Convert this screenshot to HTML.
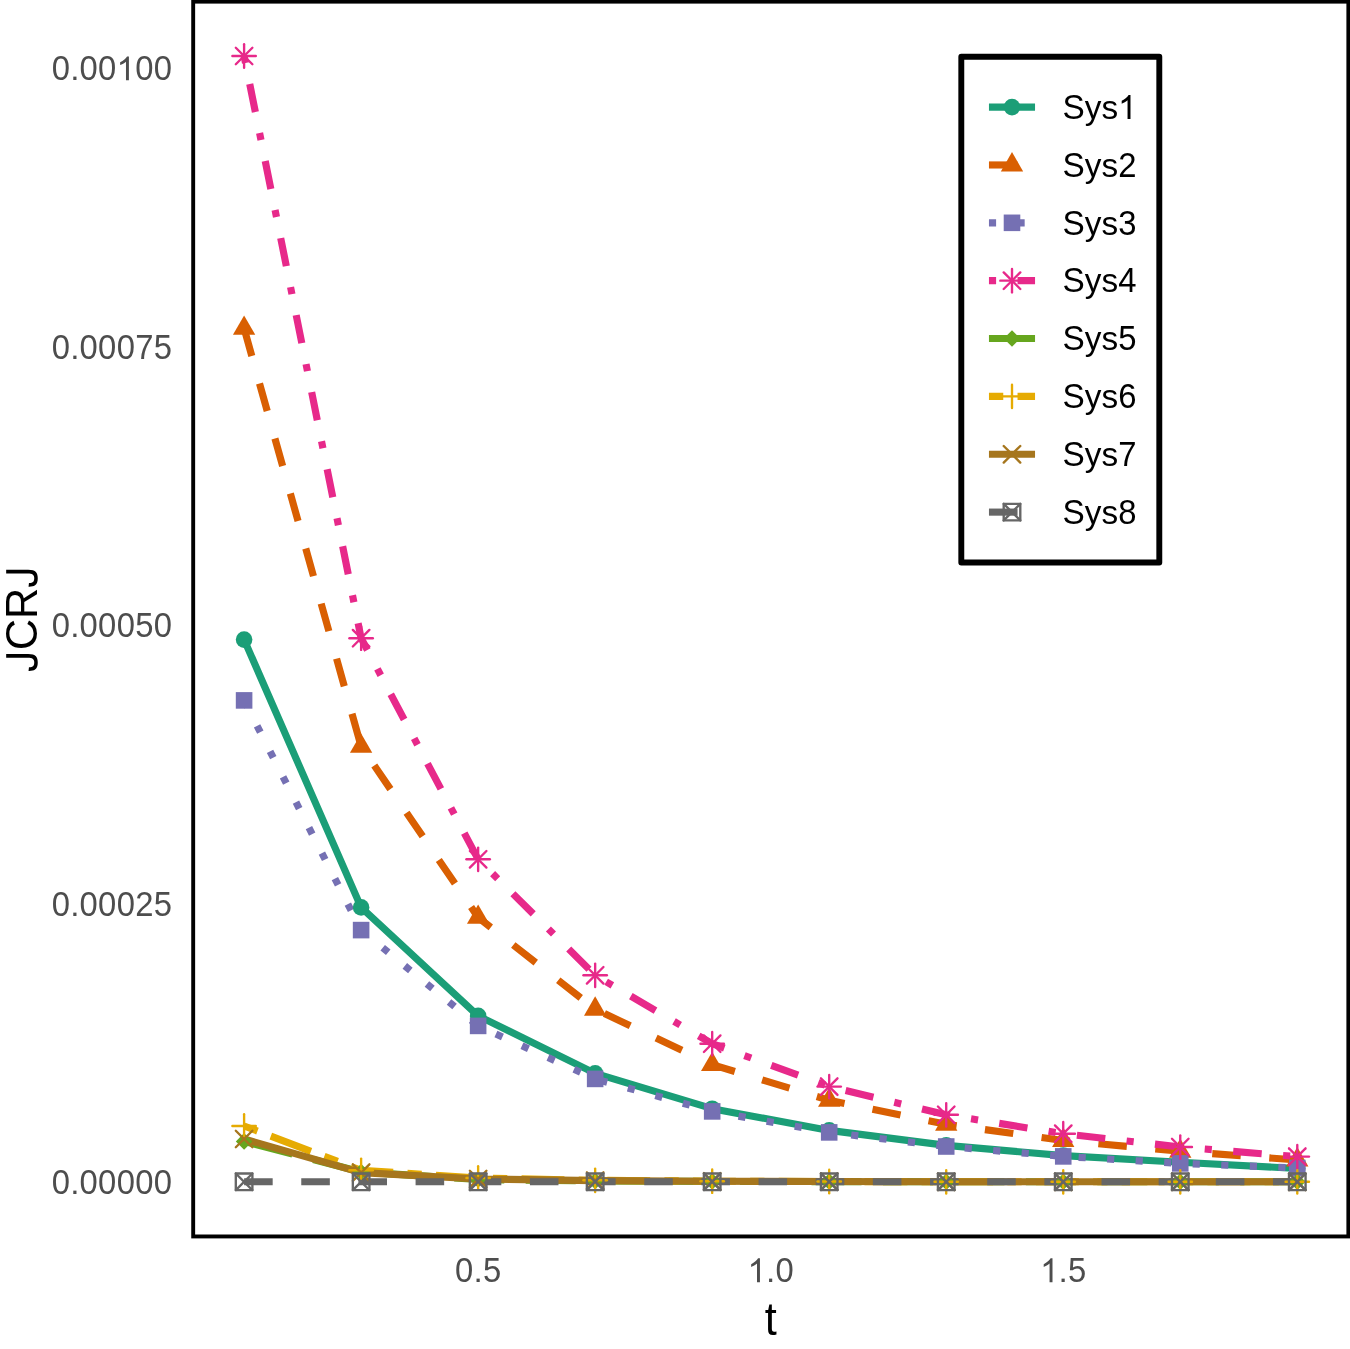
<!DOCTYPE html>
<html><head><meta charset="utf-8"><style>
html,body{margin:0;padding:0;background:#fff;}
body{width:1350px;height:1349px;overflow:hidden;}
svg{display:block;font-family:"Liberation Sans",sans-serif;will-change:transform;}
</style></head><body>
<svg width="1350" height="1349" viewBox="0 0 1350 1349">
<rect width="1350" height="1349" fill="#fff"/>
<polyline points="244.1,639.6 361.12,907.4 478.14,1015.9 595.16,1073.4 712.18,1108.7 829.2,1130.4 946.22,1145.4 1063.24,1155.6 1180.26,1162.2 1297.28,1168.5" fill="none" stroke="#1B9E77" stroke-width="7.14" stroke-linejoin="round" stroke-linecap="butt"/>
<polyline points="244.1,328.4 361.12,746.3 478.14,917.4 595.16,1009.2 712.18,1064.6 829.2,1100.3 946.22,1124.3 1063.24,1140.5 1180.26,1151.3 1297.28,1160" fill="none" stroke="#D95F02" stroke-width="7.14" stroke-linejoin="round" stroke-linecap="butt" stroke-dasharray="28.58 28.58"/>
<polyline points="244.1,700.4 361.12,930.1 478.14,1025.9 595.16,1078.9 712.18,1111.4 829.2,1132.4 946.22,1146.5 1063.24,1156.4 1180.26,1163.4 1297.28,1168" fill="none" stroke="#7570B3" stroke-width="7.14" stroke-linejoin="round" stroke-linecap="butt" stroke-dasharray="7.14 21.43"/>
<polyline points="244.1,56 361.12,638.2 478.14,859.3 595.16,975.3 712.18,1043.7 829.2,1086.6 946.22,1114.8 1063.24,1133.7 1180.26,1147.05 1297.28,1156.6" fill="none" stroke="#E7298A" stroke-width="7.14" stroke-linejoin="round" stroke-linecap="butt" stroke-dasharray="7.14 21.43 28.58 21.43"/>
<polyline points="244.1,1141.4 361.12,1172 478.14,1179.5 595.16,1181 712.18,1181.4 829.2,1181.6 946.22,1181.8 1063.24,1181.8 1180.26,1181.8 1297.28,1181.8" fill="none" stroke="#66A61E" stroke-width="7.14" stroke-linejoin="round" stroke-linecap="butt" stroke-dasharray="50.02 21.43"/>
<polyline points="244.1,1126 361.12,1170.3 478.14,1178 595.16,1180.3 712.18,1181.2 829.2,1181.5 946.22,1181.8 1063.24,1181.8 1180.26,1181.8 1297.28,1181.8" fill="none" stroke="#E6AB02" stroke-width="7.14" stroke-linejoin="round" stroke-linecap="butt" stroke-dasharray="14.29 14.29 42.87 14.29"/>
<polyline points="244.1,1139 361.12,1172.6 478.14,1179 595.16,1180.6 712.18,1181.3 829.2,1181.5 946.22,1181.8 1063.24,1181.8 1180.26,1181.8 1297.28,1181.8" fill="none" stroke="#A6761D" stroke-width="7.14" stroke-linejoin="round" stroke-linecap="butt"/>
<polyline points="244.1,1181.8 361.12,1181.8 478.14,1181.8 595.16,1181.8 712.18,1181.8 829.2,1181.8 946.22,1181.8 1063.24,1181.8 1180.26,1181.8 1297.28,1181.8" fill="none" stroke="#666666" stroke-width="7.14" stroke-linejoin="round" stroke-linecap="butt" stroke-dasharray="28.58 28.58"/>
<circle cx="244.1" cy="639.6" r="8.29" fill="#1B9E77"/>
<circle cx="361.12" cy="907.4" r="8.29" fill="#1B9E77"/>
<circle cx="478.14" cy="1015.9" r="8.29" fill="#1B9E77"/>
<circle cx="595.16" cy="1073.4" r="8.29" fill="#1B9E77"/>
<circle cx="712.18" cy="1108.7" r="8.29" fill="#1B9E77"/>
<circle cx="829.2" cy="1130.4" r="8.29" fill="#1B9E77"/>
<circle cx="946.22" cy="1145.4" r="8.29" fill="#1B9E77"/>
<circle cx="1063.24" cy="1155.6" r="8.29" fill="#1B9E77"/>
<circle cx="1180.26" cy="1162.2" r="8.29" fill="#1B9E77"/>
<circle cx="1297.28" cy="1168.5" r="8.29" fill="#1B9E77"/>
<polygon points="244.1,315.51 255.26,334.85 232.94,334.85" fill="#D95F02"/>
<polygon points="361.12,733.41 372.28,752.75 349.96,752.75" fill="#D95F02"/>
<polygon points="478.14,904.51 489.3,923.85 466.98,923.85" fill="#D95F02"/>
<polygon points="595.16,996.31 606.32,1015.65 584,1015.65" fill="#D95F02"/>
<polygon points="712.18,1051.71 723.34,1071.05 701.02,1071.05" fill="#D95F02"/>
<polygon points="829.2,1087.41 840.36,1106.75 818.04,1106.75" fill="#D95F02"/>
<polygon points="946.22,1111.41 957.38,1130.75 935.06,1130.75" fill="#D95F02"/>
<polygon points="1063.24,1127.61 1074.4,1146.95 1052.08,1146.95" fill="#D95F02"/>
<polygon points="1180.26,1138.41 1191.42,1157.75 1169.1,1157.75" fill="#D95F02"/>
<polygon points="1297.28,1147.11 1308.44,1166.45 1286.12,1166.45" fill="#D95F02"/>
<rect x="235.81" y="692.11" width="16.58" height="16.58" fill="#7570B3"/>
<rect x="352.83" y="921.81" width="16.58" height="16.58" fill="#7570B3"/>
<rect x="469.85" y="1017.61" width="16.58" height="16.58" fill="#7570B3"/>
<rect x="586.87" y="1070.61" width="16.58" height="16.58" fill="#7570B3"/>
<rect x="703.89" y="1103.11" width="16.58" height="16.58" fill="#7570B3"/>
<rect x="820.91" y="1124.11" width="16.58" height="16.58" fill="#7570B3"/>
<rect x="937.93" y="1138.21" width="16.58" height="16.58" fill="#7570B3"/>
<rect x="1054.95" y="1148.11" width="16.58" height="16.58" fill="#7570B3"/>
<rect x="1171.97" y="1155.11" width="16.58" height="16.58" fill="#7570B3"/>
<rect x="1288.99" y="1159.71" width="16.58" height="16.58" fill="#7570B3"/>
<g stroke="#E7298A" stroke-width="2.36" stroke-linecap="round" fill="none"><line x1="232.38" y1="56" x2="255.82" y2="56"/><line x1="244.1" y1="44.28" x2="244.1" y2="67.72"/><line x1="235.81" y1="47.71" x2="252.39" y2="64.29"/><line x1="235.81" y1="64.29" x2="252.39" y2="47.71"/></g>
<g stroke="#E7298A" stroke-width="2.36" stroke-linecap="round" fill="none"><line x1="349.4" y1="638.2" x2="372.84" y2="638.2"/><line x1="361.12" y1="626.48" x2="361.12" y2="649.92"/><line x1="352.83" y1="629.91" x2="369.41" y2="646.49"/><line x1="352.83" y1="646.49" x2="369.41" y2="629.91"/></g>
<g stroke="#E7298A" stroke-width="2.36" stroke-linecap="round" fill="none"><line x1="466.42" y1="859.3" x2="489.86" y2="859.3"/><line x1="478.14" y1="847.58" x2="478.14" y2="871.02"/><line x1="469.85" y1="851.01" x2="486.43" y2="867.59"/><line x1="469.85" y1="867.59" x2="486.43" y2="851.01"/></g>
<g stroke="#E7298A" stroke-width="2.36" stroke-linecap="round" fill="none"><line x1="583.44" y1="975.3" x2="606.88" y2="975.3"/><line x1="595.16" y1="963.58" x2="595.16" y2="987.02"/><line x1="586.87" y1="967.01" x2="603.45" y2="983.59"/><line x1="586.87" y1="983.59" x2="603.45" y2="967.01"/></g>
<g stroke="#E7298A" stroke-width="2.36" stroke-linecap="round" fill="none"><line x1="700.46" y1="1043.7" x2="723.9" y2="1043.7"/><line x1="712.18" y1="1031.98" x2="712.18" y2="1055.42"/><line x1="703.89" y1="1035.41" x2="720.47" y2="1051.99"/><line x1="703.89" y1="1051.99" x2="720.47" y2="1035.41"/></g>
<g stroke="#E7298A" stroke-width="2.36" stroke-linecap="round" fill="none"><line x1="817.48" y1="1086.6" x2="840.92" y2="1086.6"/><line x1="829.2" y1="1074.88" x2="829.2" y2="1098.32"/><line x1="820.91" y1="1078.31" x2="837.49" y2="1094.89"/><line x1="820.91" y1="1094.89" x2="837.49" y2="1078.31"/></g>
<g stroke="#E7298A" stroke-width="2.36" stroke-linecap="round" fill="none"><line x1="934.5" y1="1114.8" x2="957.94" y2="1114.8"/><line x1="946.22" y1="1103.08" x2="946.22" y2="1126.52"/><line x1="937.93" y1="1106.51" x2="954.51" y2="1123.09"/><line x1="937.93" y1="1123.09" x2="954.51" y2="1106.51"/></g>
<g stroke="#E7298A" stroke-width="2.36" stroke-linecap="round" fill="none"><line x1="1051.52" y1="1133.7" x2="1074.96" y2="1133.7"/><line x1="1063.24" y1="1121.98" x2="1063.24" y2="1145.42"/><line x1="1054.95" y1="1125.41" x2="1071.53" y2="1141.99"/><line x1="1054.95" y1="1141.99" x2="1071.53" y2="1125.41"/></g>
<g stroke="#E7298A" stroke-width="2.36" stroke-linecap="round" fill="none"><line x1="1168.54" y1="1147.05" x2="1191.98" y2="1147.05"/><line x1="1180.26" y1="1135.33" x2="1180.26" y2="1158.77"/><line x1="1171.97" y1="1138.76" x2="1188.55" y2="1155.34"/><line x1="1171.97" y1="1155.34" x2="1188.55" y2="1138.76"/></g>
<g stroke="#E7298A" stroke-width="2.36" stroke-linecap="round" fill="none"><line x1="1285.56" y1="1156.6" x2="1309" y2="1156.6"/><line x1="1297.28" y1="1144.88" x2="1297.28" y2="1168.32"/><line x1="1288.99" y1="1148.31" x2="1305.57" y2="1164.89"/><line x1="1288.99" y1="1164.89" x2="1305.57" y2="1148.31"/></g>
<polygon points="235.81,1141.4 244.1,1133.11 252.39,1141.4 244.1,1149.69" fill="#66A61E"/>
<polygon points="352.83,1172 361.12,1163.71 369.41,1172 361.12,1180.29" fill="#66A61E"/>
<polygon points="469.85,1179.5 478.14,1171.21 486.43,1179.5 478.14,1187.79" fill="#66A61E"/>
<polygon points="586.87,1181 595.16,1172.71 603.45,1181 595.16,1189.29" fill="#66A61E"/>
<polygon points="703.89,1181.4 712.18,1173.11 720.47,1181.4 712.18,1189.69" fill="#66A61E"/>
<polygon points="820.91,1181.6 829.2,1173.31 837.49,1181.6 829.2,1189.89" fill="#66A61E"/>
<polygon points="937.93,1181.8 946.22,1173.51 954.51,1181.8 946.22,1190.09" fill="#66A61E"/>
<polygon points="1054.95,1181.8 1063.24,1173.51 1071.53,1181.8 1063.24,1190.09" fill="#66A61E"/>
<polygon points="1171.97,1181.8 1180.26,1173.51 1188.55,1181.8 1180.26,1190.09" fill="#66A61E"/>
<polygon points="1288.99,1181.8 1297.28,1173.51 1305.57,1181.8 1297.28,1190.09" fill="#66A61E"/>
<g stroke="#E6AB02" stroke-width="2.36" stroke-linecap="round" fill="none"><line x1="232.38" y1="1126" x2="255.82" y2="1126"/><line x1="244.1" y1="1114.28" x2="244.1" y2="1137.72"/></g>
<g stroke="#E6AB02" stroke-width="2.36" stroke-linecap="round" fill="none"><line x1="349.4" y1="1170.3" x2="372.84" y2="1170.3"/><line x1="361.12" y1="1158.58" x2="361.12" y2="1182.02"/></g>
<g stroke="#E6AB02" stroke-width="2.36" stroke-linecap="round" fill="none"><line x1="466.42" y1="1178" x2="489.86" y2="1178"/><line x1="478.14" y1="1166.28" x2="478.14" y2="1189.72"/></g>
<g stroke="#E6AB02" stroke-width="2.36" stroke-linecap="round" fill="none"><line x1="583.44" y1="1180.3" x2="606.88" y2="1180.3"/><line x1="595.16" y1="1168.58" x2="595.16" y2="1192.02"/></g>
<g stroke="#E6AB02" stroke-width="2.36" stroke-linecap="round" fill="none"><line x1="700.46" y1="1181.2" x2="723.9" y2="1181.2"/><line x1="712.18" y1="1169.48" x2="712.18" y2="1192.92"/></g>
<g stroke="#E6AB02" stroke-width="2.36" stroke-linecap="round" fill="none"><line x1="817.48" y1="1181.5" x2="840.92" y2="1181.5"/><line x1="829.2" y1="1169.78" x2="829.2" y2="1193.22"/></g>
<g stroke="#E6AB02" stroke-width="2.36" stroke-linecap="round" fill="none"><line x1="934.5" y1="1181.8" x2="957.94" y2="1181.8"/><line x1="946.22" y1="1170.08" x2="946.22" y2="1193.52"/></g>
<g stroke="#E6AB02" stroke-width="2.36" stroke-linecap="round" fill="none"><line x1="1051.52" y1="1181.8" x2="1074.96" y2="1181.8"/><line x1="1063.24" y1="1170.08" x2="1063.24" y2="1193.52"/></g>
<g stroke="#E6AB02" stroke-width="2.36" stroke-linecap="round" fill="none"><line x1="1168.54" y1="1181.8" x2="1191.98" y2="1181.8"/><line x1="1180.26" y1="1170.08" x2="1180.26" y2="1193.52"/></g>
<g stroke="#E6AB02" stroke-width="2.36" stroke-linecap="round" fill="none"><line x1="1285.56" y1="1181.8" x2="1309" y2="1181.8"/><line x1="1297.28" y1="1170.08" x2="1297.28" y2="1193.52"/></g>
<g stroke="#A6761D" stroke-width="2.36" stroke-linecap="round" fill="none"><line x1="235.81" y1="1130.71" x2="252.39" y2="1147.29"/><line x1="235.81" y1="1147.29" x2="252.39" y2="1130.71"/></g>
<g stroke="#A6761D" stroke-width="2.36" stroke-linecap="round" fill="none"><line x1="352.83" y1="1164.31" x2="369.41" y2="1180.89"/><line x1="352.83" y1="1180.89" x2="369.41" y2="1164.31"/></g>
<g stroke="#A6761D" stroke-width="2.36" stroke-linecap="round" fill="none"><line x1="469.85" y1="1170.71" x2="486.43" y2="1187.29"/><line x1="469.85" y1="1187.29" x2="486.43" y2="1170.71"/></g>
<g stroke="#A6761D" stroke-width="2.36" stroke-linecap="round" fill="none"><line x1="586.87" y1="1172.31" x2="603.45" y2="1188.89"/><line x1="586.87" y1="1188.89" x2="603.45" y2="1172.31"/></g>
<g stroke="#A6761D" stroke-width="2.36" stroke-linecap="round" fill="none"><line x1="703.89" y1="1173.01" x2="720.47" y2="1189.59"/><line x1="703.89" y1="1189.59" x2="720.47" y2="1173.01"/></g>
<g stroke="#A6761D" stroke-width="2.36" stroke-linecap="round" fill="none"><line x1="820.91" y1="1173.21" x2="837.49" y2="1189.79"/><line x1="820.91" y1="1189.79" x2="837.49" y2="1173.21"/></g>
<g stroke="#A6761D" stroke-width="2.36" stroke-linecap="round" fill="none"><line x1="937.93" y1="1173.51" x2="954.51" y2="1190.09"/><line x1="937.93" y1="1190.09" x2="954.51" y2="1173.51"/></g>
<g stroke="#A6761D" stroke-width="2.36" stroke-linecap="round" fill="none"><line x1="1054.95" y1="1173.51" x2="1071.53" y2="1190.09"/><line x1="1054.95" y1="1190.09" x2="1071.53" y2="1173.51"/></g>
<g stroke="#A6761D" stroke-width="2.36" stroke-linecap="round" fill="none"><line x1="1171.97" y1="1173.51" x2="1188.55" y2="1190.09"/><line x1="1171.97" y1="1190.09" x2="1188.55" y2="1173.51"/></g>
<g stroke="#A6761D" stroke-width="2.36" stroke-linecap="round" fill="none"><line x1="1288.99" y1="1173.51" x2="1305.57" y2="1190.09"/><line x1="1288.99" y1="1190.09" x2="1305.57" y2="1173.51"/></g>
<g stroke="#666666" stroke-width="2.36" stroke-linecap="round" fill="none"><line x1="235.81" y1="1173.51" x2="252.39" y2="1190.09"/><line x1="235.81" y1="1190.09" x2="252.39" y2="1173.51"/><rect x="235.81" y="1173.51" width="16.58" height="16.58" stroke-linejoin="round"/></g>
<g stroke="#666666" stroke-width="2.36" stroke-linecap="round" fill="none"><line x1="352.83" y1="1173.51" x2="369.41" y2="1190.09"/><line x1="352.83" y1="1190.09" x2="369.41" y2="1173.51"/><rect x="352.83" y="1173.51" width="16.58" height="16.58" stroke-linejoin="round"/></g>
<g stroke="#666666" stroke-width="2.36" stroke-linecap="round" fill="none"><line x1="469.85" y1="1173.51" x2="486.43" y2="1190.09"/><line x1="469.85" y1="1190.09" x2="486.43" y2="1173.51"/><rect x="469.85" y="1173.51" width="16.58" height="16.58" stroke-linejoin="round"/></g>
<g stroke="#666666" stroke-width="2.36" stroke-linecap="round" fill="none"><line x1="586.87" y1="1173.51" x2="603.45" y2="1190.09"/><line x1="586.87" y1="1190.09" x2="603.45" y2="1173.51"/><rect x="586.87" y="1173.51" width="16.58" height="16.58" stroke-linejoin="round"/></g>
<g stroke="#666666" stroke-width="2.36" stroke-linecap="round" fill="none"><line x1="703.89" y1="1173.51" x2="720.47" y2="1190.09"/><line x1="703.89" y1="1190.09" x2="720.47" y2="1173.51"/><rect x="703.89" y="1173.51" width="16.58" height="16.58" stroke-linejoin="round"/></g>
<g stroke="#666666" stroke-width="2.36" stroke-linecap="round" fill="none"><line x1="820.91" y1="1173.51" x2="837.49" y2="1190.09"/><line x1="820.91" y1="1190.09" x2="837.49" y2="1173.51"/><rect x="820.91" y="1173.51" width="16.58" height="16.58" stroke-linejoin="round"/></g>
<g stroke="#666666" stroke-width="2.36" stroke-linecap="round" fill="none"><line x1="937.93" y1="1173.51" x2="954.51" y2="1190.09"/><line x1="937.93" y1="1190.09" x2="954.51" y2="1173.51"/><rect x="937.93" y="1173.51" width="16.58" height="16.58" stroke-linejoin="round"/></g>
<g stroke="#666666" stroke-width="2.36" stroke-linecap="round" fill="none"><line x1="1054.95" y1="1173.51" x2="1071.53" y2="1190.09"/><line x1="1054.95" y1="1190.09" x2="1071.53" y2="1173.51"/><rect x="1054.95" y="1173.51" width="16.58" height="16.58" stroke-linejoin="round"/></g>
<g stroke="#666666" stroke-width="2.36" stroke-linecap="round" fill="none"><line x1="1171.97" y1="1173.51" x2="1188.55" y2="1190.09"/><line x1="1171.97" y1="1190.09" x2="1188.55" y2="1173.51"/><rect x="1171.97" y="1173.51" width="16.58" height="16.58" stroke-linejoin="round"/></g>
<g stroke="#666666" stroke-width="2.36" stroke-linecap="round" fill="none"><line x1="1288.99" y1="1173.51" x2="1305.57" y2="1190.09"/><line x1="1288.99" y1="1190.09" x2="1305.57" y2="1173.51"/><rect x="1288.99" y="1173.51" width="16.58" height="16.58" stroke-linejoin="round"/></g>
<rect x="193.19" y="1.65" width="1155.16" height="1234.8" fill="none" stroke="#000" stroke-width="3.9"/>
<g transform="translate(172.1,1194.03)" fill="#4D4D4D" font-size="33.33" text-anchor="middle"><text transform="translate(-111.21,0) scale(0.985,1.04)">0</text><text transform="translate(-97.31,0) scale(1,0.94)">.</text><text transform="translate(-83.41,0) scale(0.985,1.04)">0</text><text transform="translate(-64.88,0) scale(0.985,1.04)">0</text><text transform="translate(-46.34,0) scale(0.985,1.04)">0</text><text transform="translate(-27.8,0) scale(0.985,1.04)">0</text><text transform="translate(-9.27,0) scale(0.985,1.04)">0</text></g>
<g transform="translate(172.1,915.61)" fill="#4D4D4D" font-size="33.33" text-anchor="middle"><text transform="translate(-111.21,0) scale(0.985,1.04)">0</text><text transform="translate(-97.31,0) scale(1,0.94)">.</text><text transform="translate(-83.41,0) scale(0.985,1.04)">0</text><text transform="translate(-64.88,0) scale(0.985,1.04)">0</text><text transform="translate(-46.34,0) scale(0.985,1.04)">0</text><text transform="translate(-27.8,0) scale(0.985,1.04)">2</text><text transform="translate(-9.27,0) scale(0.985,1.04)">5</text></g>
<g transform="translate(172.1,637.18)" fill="#4D4D4D" font-size="33.33" text-anchor="middle"><text transform="translate(-111.21,0) scale(0.985,1.04)">0</text><text transform="translate(-97.31,0) scale(1,0.94)">.</text><text transform="translate(-83.41,0) scale(0.985,1.04)">0</text><text transform="translate(-64.88,0) scale(0.985,1.04)">0</text><text transform="translate(-46.34,0) scale(0.985,1.04)">0</text><text transform="translate(-27.8,0) scale(0.985,1.04)">5</text><text transform="translate(-9.27,0) scale(0.985,1.04)">0</text></g>
<g transform="translate(172.1,358.76)" fill="#4D4D4D" font-size="33.33" text-anchor="middle"><text transform="translate(-111.21,0) scale(0.985,1.04)">0</text><text transform="translate(-97.31,0) scale(1,0.94)">.</text><text transform="translate(-83.41,0) scale(0.985,1.04)">0</text><text transform="translate(-64.88,0) scale(0.985,1.04)">0</text><text transform="translate(-46.34,0) scale(0.985,1.04)">0</text><text transform="translate(-27.8,0) scale(0.985,1.04)">7</text><text transform="translate(-9.27,0) scale(0.985,1.04)">5</text></g>
<g transform="translate(172.1,80.33)" fill="#4D4D4D" font-size="33.33" text-anchor="middle"><text transform="translate(-111.21,0) scale(0.985,1.04)">0</text><text transform="translate(-97.31,0) scale(1,0.94)">.</text><text transform="translate(-83.41,0) scale(0.985,1.04)">0</text><text transform="translate(-64.88,0) scale(0.985,1.04)">0</text><path transform="translate(-55.61,0) scale(33.33,-33.3300)" d="M0.3726 0 L0.2847 0 L0.2847 0.5601 Q0.2529 0.5298 0.2012 0.4995 Q0.1494 0.4692 0.1094 0.4570 L0.1094 0.5420 Q0.1826 0.5767 0.2373 0.6250 Q0.2920 0.6733 0.3164 0.7158 L0.3726 0.7158 Z"/><text transform="translate(-27.8,0) scale(0.985,1.04)">0</text><text transform="translate(-9.27,0) scale(0.985,1.04)">0</text></g>
<g transform="translate(478.14,1282.2)" fill="#4D4D4D" font-size="33.33" text-anchor="middle"><text transform="translate(-13.9,0) scale(0.985,1.04)">0</text><text transform="translate(-0,0) scale(1,0.94)">.</text><text transform="translate(13.9,0) scale(0.985,1.04)">5</text></g>
<g transform="translate(770.69,1282.2)" fill="#4D4D4D" font-size="33.33" text-anchor="middle"><path transform="translate(-23.17,0) scale(33.33,-33.3300)" d="M0.3726 0 L0.2847 0 L0.2847 0.5601 Q0.2529 0.5298 0.2012 0.4995 Q0.1494 0.4692 0.1094 0.4570 L0.1094 0.5420 Q0.1826 0.5767 0.2373 0.6250 Q0.2920 0.6733 0.3164 0.7158 L0.3726 0.7158 Z"/><text transform="translate(-0,0) scale(1,0.94)">.</text><text transform="translate(13.9,0) scale(0.985,1.04)">0</text></g>
<g transform="translate(1063.24,1282.2)" fill="#4D4D4D" font-size="33.33" text-anchor="middle"><path transform="translate(-23.17,0) scale(33.33,-33.3300)" d="M0.3726 0 L0.2847 0 L0.2847 0.5601 Q0.2529 0.5298 0.2012 0.4995 Q0.1494 0.4692 0.1094 0.4570 L0.1094 0.5420 Q0.1826 0.5767 0.2373 0.6250 Q0.2920 0.6733 0.3164 0.7158 L0.3726 0.7158 Z"/><text transform="translate(-0,0) scale(1,0.94)">.</text><text transform="translate(13.9,0) scale(0.985,1.04)">5</text></g>
<g transform="translate(770.69,1334.5)" fill="#000" font-size="43.33" text-anchor="middle"><text transform="translate(0,0) scale(1,1.08)">t</text></g>
<g transform="translate(37.2,619) rotate(-90)" fill="#000" font-size="43.33" text-anchor="middle"><path transform="translate(-52.96,0) scale(43.33,-43.3300)" d="M0.326 0.716 L0.414 0.716 L0.414 0.21 C0.414 0.12 0.395 0.06 0.36 0.03 C0.325 0.0 0.275 -0.013 0.215 -0.013 C0.14 -0.013 0.085 0.01 0.055 0.05 C0.03 0.085 0.02 0.135 0.022 0.2 L0.11 0.19 C0.11 0.14 0.12 0.11 0.14 0.09 C0.16 0.075 0.185 0.068 0.215 0.068 C0.255 0.068 0.285 0.08 0.303 0.105 C0.318 0.125 0.326 0.165 0.326 0.22 Z"/><text transform="translate(-15.65,0) scale(1,1.04)">C</text><text transform="translate(15.65,0) scale(1,1.04)">R</text><path transform="translate(31.29,0) scale(43.33,-43.3300)" d="M0.326 0.716 L0.414 0.716 L0.414 0.21 C0.414 0.12 0.395 0.06 0.36 0.03 C0.325 0.0 0.275 -0.013 0.215 -0.013 C0.14 -0.013 0.085 0.01 0.055 0.05 C0.03 0.085 0.02 0.135 0.022 0.2 L0.11 0.19 C0.11 0.14 0.12 0.11 0.14 0.09 C0.16 0.075 0.185 0.068 0.215 0.068 C0.255 0.068 0.285 0.08 0.303 0.105 C0.318 0.125 0.326 0.165 0.326 0.22 Z"/></g>
<rect x="961.3" y="56.76" width="198" height="505.79" fill="#fff" stroke="#000" stroke-width="5.9" stroke-linejoin="round"/>
<line x1="988.96" y1="107.1" x2="1035.04" y2="107.1" stroke="#1B9E77" stroke-width="7.14" stroke-linecap="butt"/>
<circle cx="1012" cy="107.1" r="8.29" fill="#1B9E77"/>
<g transform="translate(1062.5,118.9)" fill="#000" font-size="33.33" text-anchor="middle"><text transform="translate(11.12,0) scale(1,1.04)">S</text><text transform="translate(30.56,0) scale(1,0.982)">y</text><text transform="translate(47.23,0) scale(1,0.982)">s</text><path transform="translate(55.56,0) scale(33.33,-33.3300)" d="M0.3726 0 L0.2847 0 L0.2847 0.5601 Q0.2529 0.5298 0.2012 0.4995 Q0.1494 0.4692 0.1094 0.4570 L0.1094 0.5420 Q0.1826 0.5767 0.2373 0.6250 Q0.2920 0.6733 0.3164 0.7158 L0.3726 0.7158 Z"/></g>
<line x1="988.96" y1="164.96" x2="1035.04" y2="164.96" stroke="#D95F02" stroke-width="7.14" stroke-linecap="butt" stroke-dasharray="28.58 28.58"/>
<polygon points="1012,152.07 1023.16,171.41 1000.84,171.41" fill="#D95F02"/>
<g transform="translate(1062.5,176.76)" fill="#000" font-size="33.33" text-anchor="middle"><text transform="translate(11.12,0) scale(1,1.04)">S</text><text transform="translate(30.56,0) scale(1,0.982)">y</text><text transform="translate(47.23,0) scale(1,0.982)">s</text><text transform="translate(64.83,0) scale(0.985,1.04)">2</text></g>
<line x1="988.96" y1="222.82" x2="1035.04" y2="222.82" stroke="#7570B3" stroke-width="7.14" stroke-linecap="butt" stroke-dasharray="7.14 21.43"/>
<rect x="1003.71" y="214.53" width="16.58" height="16.58" fill="#7570B3"/>
<g transform="translate(1062.5,234.62)" fill="#000" font-size="33.33" text-anchor="middle"><text transform="translate(11.12,0) scale(1,1.04)">S</text><text transform="translate(30.56,0) scale(1,0.982)">y</text><text transform="translate(47.23,0) scale(1,0.982)">s</text><text transform="translate(64.83,0) scale(0.985,1.04)">3</text></g>
<line x1="988.96" y1="280.68" x2="1035.04" y2="280.68" stroke="#E7298A" stroke-width="7.14" stroke-linecap="butt" stroke-dasharray="7.14 21.43 28.58 21.43"/>
<g stroke="#E7298A" stroke-width="2.36" stroke-linecap="round" fill="none"><line x1="1000.28" y1="280.68" x2="1023.72" y2="280.68"/><line x1="1012" y1="268.96" x2="1012" y2="292.4"/><line x1="1003.71" y1="272.39" x2="1020.29" y2="288.97"/><line x1="1003.71" y1="288.97" x2="1020.29" y2="272.39"/></g>
<g transform="translate(1062.5,292.48)" fill="#000" font-size="33.33" text-anchor="middle"><text transform="translate(11.12,0) scale(1,1.04)">S</text><text transform="translate(30.56,0) scale(1,0.982)">y</text><text transform="translate(47.23,0) scale(1,0.982)">s</text><text transform="translate(64.83,0) scale(0.985,1.04)">4</text></g>
<line x1="988.96" y1="338.54" x2="1035.04" y2="338.54" stroke="#66A61E" stroke-width="7.14" stroke-linecap="butt" stroke-dasharray="50.02 21.43"/>
<polygon points="1003.71,338.54 1012,330.25 1020.29,338.54 1012,346.83" fill="#66A61E"/>
<g transform="translate(1062.5,350.34)" fill="#000" font-size="33.33" text-anchor="middle"><text transform="translate(11.12,0) scale(1,1.04)">S</text><text transform="translate(30.56,0) scale(1,0.982)">y</text><text transform="translate(47.23,0) scale(1,0.982)">s</text><text transform="translate(64.83,0) scale(0.985,1.04)">5</text></g>
<line x1="988.96" y1="396.4" x2="1035.04" y2="396.4" stroke="#E6AB02" stroke-width="7.14" stroke-linecap="butt" stroke-dasharray="14.29 14.29 42.87 14.29"/>
<g stroke="#E6AB02" stroke-width="2.36" stroke-linecap="round" fill="none"><line x1="1000.28" y1="396.4" x2="1023.72" y2="396.4"/><line x1="1012" y1="384.68" x2="1012" y2="408.12"/></g>
<g transform="translate(1062.5,408.2)" fill="#000" font-size="33.33" text-anchor="middle"><text transform="translate(11.12,0) scale(1,1.04)">S</text><text transform="translate(30.56,0) scale(1,0.982)">y</text><text transform="translate(47.23,0) scale(1,0.982)">s</text><text transform="translate(64.83,0) scale(0.985,1.04)">6</text></g>
<line x1="988.96" y1="454.26" x2="1035.04" y2="454.26" stroke="#A6761D" stroke-width="7.14" stroke-linecap="butt"/>
<g stroke="#A6761D" stroke-width="2.36" stroke-linecap="round" fill="none"><line x1="1003.71" y1="445.97" x2="1020.29" y2="462.55"/><line x1="1003.71" y1="462.55" x2="1020.29" y2="445.97"/></g>
<g transform="translate(1062.5,466.06)" fill="#000" font-size="33.33" text-anchor="middle"><text transform="translate(11.12,0) scale(1,1.04)">S</text><text transform="translate(30.56,0) scale(1,0.982)">y</text><text transform="translate(47.23,0) scale(1,0.982)">s</text><text transform="translate(64.83,0) scale(0.985,1.04)">7</text></g>
<line x1="988.96" y1="512.12" x2="1035.04" y2="512.12" stroke="#666666" stroke-width="7.14" stroke-linecap="butt" stroke-dasharray="28.58 28.58"/>
<g stroke="#666666" stroke-width="2.36" stroke-linecap="round" fill="none"><line x1="1003.71" y1="503.83" x2="1020.29" y2="520.41"/><line x1="1003.71" y1="520.41" x2="1020.29" y2="503.83"/><rect x="1003.71" y="503.83" width="16.58" height="16.58" stroke-linejoin="round"/></g>
<g transform="translate(1062.5,523.92)" fill="#000" font-size="33.33" text-anchor="middle"><text transform="translate(11.12,0) scale(1,1.04)">S</text><text transform="translate(30.56,0) scale(1,0.982)">y</text><text transform="translate(47.23,0) scale(1,0.982)">s</text><text transform="translate(64.83,0) scale(0.985,1.04)">8</text></g>
</svg>
</body></html>
